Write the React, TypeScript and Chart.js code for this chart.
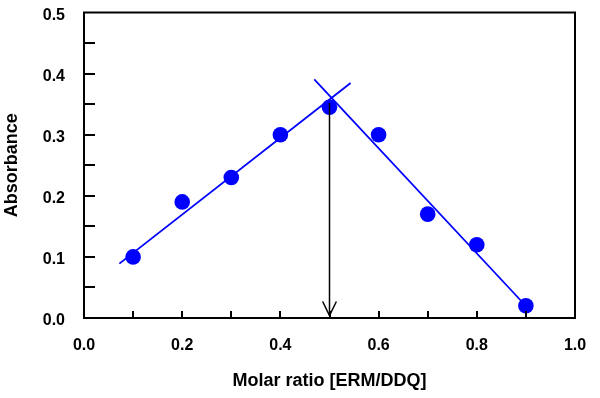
import React, { useEffect, useRef } from 'react';
import { Chart, registerables } from 'chart.js';

Chart.register(...registerables);

// Measured points
const molarRatio = [0.1, 0.2, 0.3, 0.4, 0.5, 0.6, 0.7, 0.8, 0.9];
const absorbance = [0.1, 0.19, 0.23, 0.3, 0.345, 0.3, 0.17, 0.12, 0.02];

// Fitted lines
const leftFitX = [0.072, 0.543];
const leftFitY = [0.089, 0.3845];
const rightFitX = [0.469, 0.902];
const rightFitY = [0.3905, 0.018];

// Arrow marking the stoichiometric ratio
const arrowShaftX = [0.5, 0.5];
const arrowShaftY = [0.352, 0.004];
const arrowHeadX = [0.486, 0.5, 0.514];
const arrowHeadY = [0.027, 0.004, 0.027];

// Axis ticks
const xTickValues = [0, 0.2, 0.4, 0.6, 0.8, 1.0];
const yTickValues = [0, 0.1, 0.2, 0.3, 0.4, 0.5];
const xInnerTicks = [0.1, 0.2, 0.3, 0.4, 0.5, 0.6, 0.7, 0.8, 0.9];
const yInnerTicks = [0.05, 0.1, 0.15, 0.2, 0.25, 0.3, 0.35, 0.4, 0.45];

const xTitle = 'Molar ratio [ERM/DDQ]';
const yTitle = 'Absorbance';

const FONT = '"Liberation Sans", Arial, sans-serif';

const zip = (xs: number[], ys: number[]) => xs.map((x, i) => ({ x, y: ys[i] }));

const framePlugin = {
  id: 'frameAndInnerTicks',
  afterDraw(chart: any) {
    const { ctx, chartArea } = chart;
    const xs = chart.scales.x;
    const ys = chart.scales.y;
    ctx.save();
    ctx.strokeStyle = '#000';
    ctx.lineWidth = 2;
    ctx.strokeRect(chartArea.left, chartArea.top, chartArea.right - chartArea.left, chartArea.bottom - chartArea.top);
    ctx.beginPath();
    xInnerTicks.forEach((v) => {
      const px = Math.round(xs.getPixelForValue(v));
      ctx.moveTo(px, chartArea.bottom);
      ctx.lineTo(px, chartArea.bottom - 7);
    });
    yInnerTicks.forEach((v) => {
      const py = Math.round(ys.getPixelForValue(v));
      ctx.moveTo(chartArea.left, py);
      ctx.lineTo(chartArea.left + 11, py);
    });
    ctx.stroke();
    ctx.restore();
  },
};

export default function App() {
  const canvasRef = useRef<HTMLCanvasElement | null>(null);

  useEffect(() => {
    if (!canvasRef.current) return;
    const chart = new Chart(canvasRef.current, {
      type: 'scatter',
      data: {
        datasets: [
          {
            data: zip(arrowShaftX, arrowShaftY),
            showLine: true,
            borderColor: '#000',
            borderWidth: 1.5,
            pointRadius: 0,
          },
          {
            data: zip(arrowHeadX, arrowHeadY),
            showLine: true,
            borderColor: '#000',
            borderWidth: 1.5,
            pointRadius: 0,
          },
          {
            data: zip(molarRatio, absorbance),
            showLine: false,
            backgroundColor: '#0000ff',
            borderColor: '#0000ff',
            borderWidth: 0,
            pointRadius: 7.8,
          },
          {
            data: zip(leftFitX, leftFitY),
            showLine: true,
            borderColor: '#0000ff',
            borderWidth: 1.8,
            pointRadius: 0,
          },
          {
            data: zip(rightFitX, rightFitY),
            showLine: true,
            borderColor: '#0000ff',
            borderWidth: 1.8,
            pointRadius: 0,
          },
        ],
      },
      options: {
        animation: false,
        responsive: false,
        events: [],
        layout: { padding: { top: 12.5, right: 25, left: 0, bottom: 0 } },
        plugins: { legend: { display: false }, tooltip: { enabled: false } },
        scales: {
          x: {
            type: 'linear',
            min: 0,
            max: 1,
            afterBuildTicks: (s: any) => {
              s.ticks = xTickValues.map((v) => ({ value: v }));
            },
            afterFit: (s: any) => {
              s.height = 80;
              s.paddingLeft = 0;
              s.paddingRight = 0;
            },
            grid: { display: false, drawTicks: false },
            border: { display: false },
            ticks: {
              autoSkip: false,
              maxRotation: 0,
              padding: 18,
              color: '#000',
              font: { family: FONT, size: 16, weight: 'bold' },
              callback: (v: any) => Number(v).toFixed(1),
            },
            title: {
              display: true,
              text: xTitle,
              color: '#000',
              font: { family: FONT, size: 18, weight: 'bold' },
              padding: { top: 0, bottom: 6 },
            },
          },
          y: {
            type: 'linear',
            min: 0,
            max: 0.5,
            afterBuildTicks: (s: any) => {
              s.ticks = yTickValues.map((v) => ({ value: v }));
            },
            afterFit: (s: any) => {
              s.width = 84;
              s.paddingTop = 0;
              s.paddingBottom = 0;
            },
            grid: { display: false, drawTicks: false },
            border: { display: false },
            ticks: {
              autoSkip: false,
              padding: 19,
              labelOffset: 3,
              color: '#000',
              font: { family: FONT, size: 16, weight: 'bold' },
              callback: (v: any) => Number(v).toFixed(1),
            },
            title: {
              display: true,
              text: yTitle,
              color: '#000',
              font: { family: FONT, size: 18, weight: 'bold' },
              padding: { top: 1, bottom: 0 },
            },
          },
        },
      } as any,
      plugins: [framePlugin],
    });
    return () => chart.destroy();
  }, []);

  return (
    <div style={{ position: 'fixed', left: 0, top: 0, width: 600, height: 398, background: '#fff' }}>
      <canvas ref={canvasRef} width={600} height={398} style={{ display: 'block' }} />
    </div>
  );
}
